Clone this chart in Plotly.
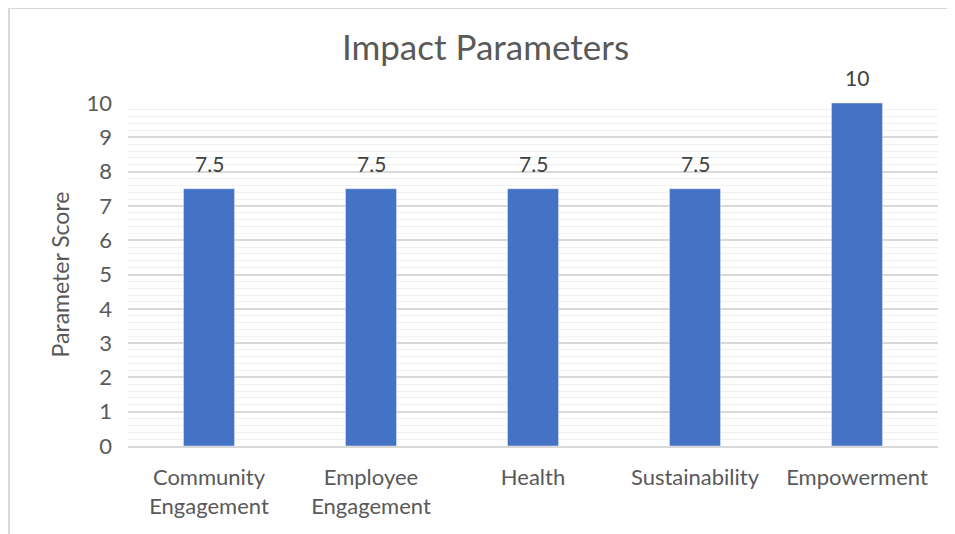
import plotly.graph_objects as go

categories = ["Community<br>Engagement", "Employee<br>Engagement", "Health", "Sustainability", "Empowerment"]
scores = [7.5, 7.5, 7.5, 7.5, 10]
y_ticks = list(range(0, 11))

fig = go.Figure(
    go.Bar(
        x=categories,
        y=scores,
        marker_color="#4472c4",
    )
)

# value labels above bars
for cat, s in zip(categories, scores):
    fig.add_annotation(x=cat, y=s, text=str(s), showarrow=False,
                       yanchor="bottom", yshift=11,
                       font=dict(size=21, color="#404040"))

# outer chart frame (figure edge)
fig.add_shape(type="rect", xref="paper", yref="paper",
              x0=-0.147, x1=1.03, y0=-0.3, y1=1.277,
              line=dict(color="#d9d9d9", width=2), layer="below")

fig.update_xaxes(tickfont=dict(size=22, color="#595959"), showline=True,
                 linecolor="#d9d9d9", linewidth=1.5, ticklabelstandoff=11)
fig.update_yaxes(
    range=[0, 10],
    tickvals=y_ticks,
    tickfont=dict(size=22, color="#595959"),
    ticklabelstandoff=15,
    title=dict(text="Parameter Score", font=dict(size=23, color="#595959"), standoff=10),
    gridcolor="#d9d9d9",
    gridwidth=1.5,
    minor=dict(dtick=0.2, showgrid=True, gridcolor="#f0f0f0", gridwidth=1),
    zeroline=False,
    ticklen=0,
)
fig.update_layout(
    width=955,
    height=534,
    margin=dict(l=120, r=25, t=95, b=96),
    bargap=0.685,
    paper_bgcolor="white",
    plot_bgcolor="white",
    font=dict(family="Lato, Open Sans, sans-serif", color="#595959"),
    title=dict(text="Impact Parameters", x=0.5, xanchor="center", y=0.925,
               yanchor="middle", font=dict(size=35, color="#595959")),
    showlegend=False,
)

fig.write_html("out.html")
